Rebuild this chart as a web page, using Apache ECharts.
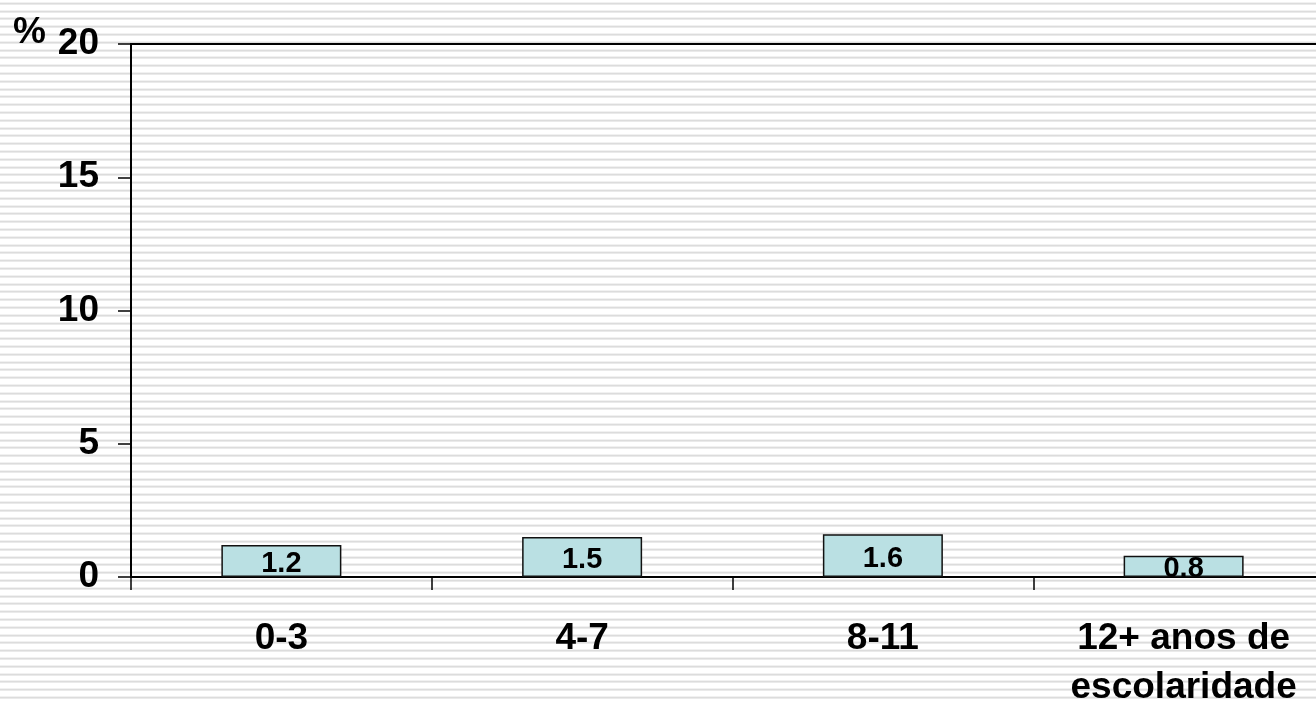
<!DOCTYPE html>
<html>
<head>
<meta charset="utf-8">
<script src="https://cdn.jsdelivr.net/npm/echarts@6/dist/echarts.min.js"></script>
<style>
  html, body { margin: 0; padding: 0; background: #fff; }
  #chart {
    width: 1316px; height: 702px;
    background-color: #fff;
    background-image: repeating-linear-gradient(to bottom, #ffffff 0px, #ffffff 5.8px, #dcdcdc 5.8px, #dcdcdc 7.8px);
    background-position: 0 -3.4px;
  }
</style>
</head>
<body>
<div id="chart"></div>
<script>
const categories = ['0-3', '4-7', '8-11', '12+ anos de\nescolaridade'];
const values = [1.2, 1.5, 1.6, 0.8];
const yTicks = [0, 5, 10, 15, 20];
const unitLabel = '%';

const FONT = '"Liberation Sans", Arial, Helvetica, sans-serif';
const chart = echarts.init(document.getElementById('chart'), null, { renderer: 'canvas' });
chart.setOption({
  backgroundColor: 'transparent',
  animation: false,
  title: {
    text: unitLabel,
    left: 8, top: 9,
    textStyle: { fontFamily: FONT, fontWeight: 'bold', fontSize: 37, color: '#000' }
  },
  grid: {
    left: 131, top: 44, bottom: 125, right: -18,
    containLabel: false,
    outerBoundsMode: 'none',
    show: true, borderColor: '#000', borderWidth: 2, backgroundColor: 'transparent'
  },
  xAxis: {
    type: 'category',
    data: categories,
    boundaryGap: true,
    axisLine: { lineStyle: { color: '#000', width: 2 } },
    axisTick: { show: true, length: 13, inside: false, lineStyle: { color: '#000', width: 1.5 } },
    axisLabel: {
      interval: 0, margin: 37,
      fontFamily: FONT, fontWeight: 'bold', fontSize: 37, lineHeight: 49, color: '#000'
    },
    splitLine: { show: false }
  },
  yAxis: {
    type: 'value',
    min: yTicks[0], max: yTicks[yTicks.length - 1], interval: 5,
    axisLine: { show: true, lineStyle: { color: '#000', width: 2 } },
    axisTick: { show: true, length: 13, lineStyle: { color: '#000', width: 1.5 } },
    axisLabel: {
      margin: 32,
      fontFamily: FONT, fontWeight: 'bold', fontSize: 37, color: '#000'
    },
    splitLine: { show: false }
  },
  series: [{
    type: 'bar',
    data: values,
    barWidth: 120,
    itemStyle: { color: '#bae0e3', borderColor: '#111', borderWidth: 1.5 },
    label: {
      show: true, position: 'inside', offset: [0, 3],
      fontFamily: FONT, fontWeight: 'bold', fontSize: 29, color: '#000',
      formatter: p => p.value.toFixed(1)
    }
  }]
});
</script>
</body>
</html>
